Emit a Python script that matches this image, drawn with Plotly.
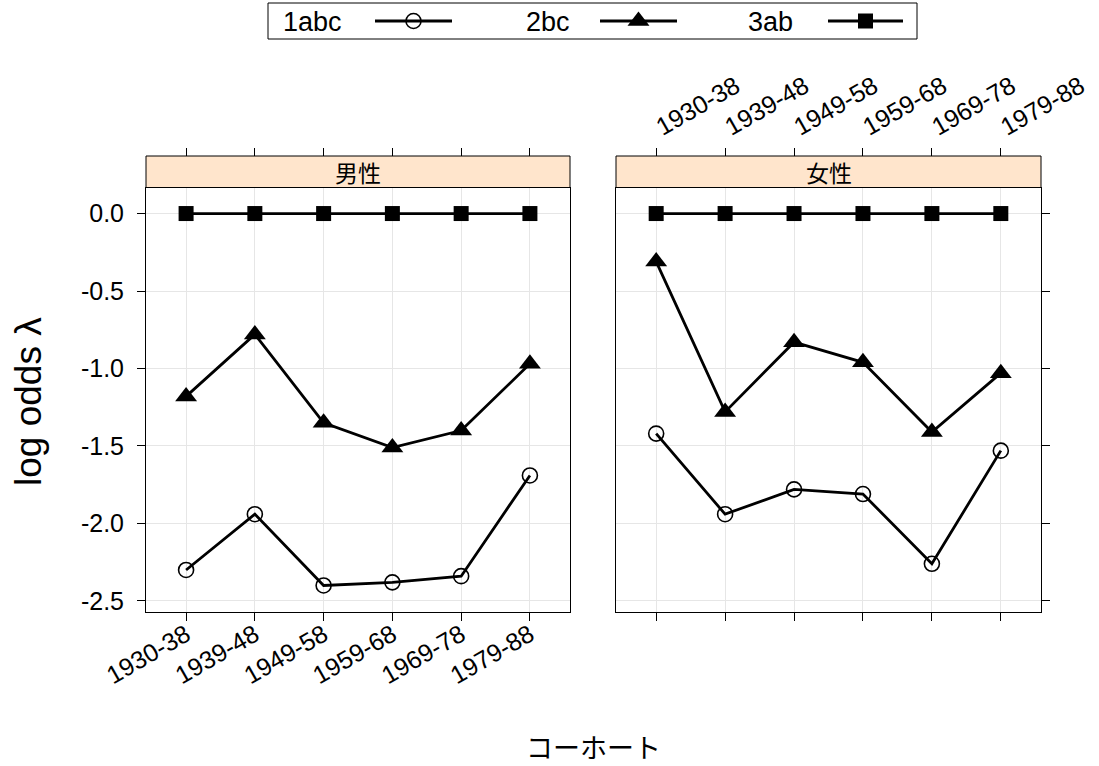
import plotly.graph_objects as go

cohorts = ["1930-38", "1939-48", "1949-58", "1959-68", "1969-78", "1979-88"]
panels = ["男性", "女性"]
series = ["1abc", "2bc", "3ab"]

male_1abc = [-2.30, -1.94, -2.40, -2.38, -2.34, -1.69]
male_2bc = [-1.18, -0.78, -1.35, -1.51, -1.40, -0.97]
male_3ab = [0.0, 0.0, 0.0, 0.0, 0.0, 0.0]
female_1abc = [-1.42, -1.94, -1.78, -1.81, -2.26, -1.53]
female_2bc = [-0.31, -1.28, -0.83, -0.96, -1.41, -1.03]
female_3ab = [0.0, 0.0, 0.0, 0.0, 0.0, 0.0]

yticks = [0.0, -0.5, -1.0, -1.5, -2.0, -2.5]
ytick_text = ["0.0", "-0.5", "-1.0", "-1.5", "-2.0", "-2.5"]

W, H = 1099, 766
def px(x):
    return x / W
def py(y):
    return 1 - y / H

FONT = "Liberation Sans, Arial, Noto Sans CJK JP"
styles = {
    "1abc": dict(symbol="circle-open", size=15, line=dict(width=1.6, color="black")),
    "2bc": dict(symbol="triangle-up", size=19, line=dict(width=0)),
    "3ab": dict(symbol="square", size=15, line=dict(width=0)),
}

xpos = list(range(1, len(cohorts) + 1))
fig = go.Figure()
data = [
    ("x", "y", [male_1abc, male_2bc, male_3ab]),
    ("x2", "y2", [female_1abc, female_2bc, female_3ab]),
]
for xa, ya, vals in data:
    for name, v in zip(series, vals):
        fig.add_trace(go.Scatter(
            x=xpos, y=v, xaxis=xa, yaxis=ya, mode="lines+markers",
            line=dict(color="black", width=2.8),
            marker=dict(color="black", **styles[name]),
            showlegend=False, cliponaxis=False, name=name))

xr = [0.417, 6.583]
yr = [-2.568, 0.168]
ydom = [py(611.5), py(187.5)]
dom1 = [px(146), px(570)]
dom2 = [px(616), px(1041)]
strip_top = 156

tickfont = dict(size=25, family=FONT, color="black")
common_x = dict(range=xr, tickvals=xpos, ticktext=cohorts, ticks="outside",
                ticklen=8, tickwidth=1, tickcolor="black",
                showgrid=True, gridcolor="#e6e6e6", gridwidth=1,
                showline=True, linecolor="black", linewidth=1, mirror=True,
                zeroline=False, tickangle=-30, automargin=False,
                tickfont=tickfont)
common_y = dict(range=yr, tickvals=yticks, ticktext=ytick_text, ticks="outside",
                ticklen=8, tickwidth=1, tickcolor="black",
                showgrid=True, gridcolor="#e6e6e6", gridwidth=1,
                showline=True, linecolor="black", linewidth=1, mirror=True,
                zeroline=False, domain=ydom, automargin=False,
                tickfont=tickfont)

fig.update_layout(
    template="none",
    width=W, height=H, margin=dict(l=0, r=0, t=0, b=0, pad=0, autoexpand=False),
    paper_bgcolor="white", plot_bgcolor="rgba(0,0,0,0)",
    font=dict(family=FONT, color="black"),
    xaxis=dict(domain=dom1, anchor="y", side="bottom", ticklabelstandoff=-10, **common_x),
    xaxis2=dict(domain=dom2, anchor="y2", side="bottom", showticklabels=False, **common_x),
    xaxis3=dict(overlaying="x", anchor="free", position=py(strip_top), side="top",
                range=xr, tickvals=xpos, ticks="outside", ticklen=8, tickcolor="black",
                showticklabels=False, showgrid=False, zeroline=False, showline=False,
                automargin=False),
    xaxis4=dict(overlaying="x2", anchor="free", position=py(strip_top), side="top",
                range=xr, tickvals=xpos, ticktext=cohorts, ticks="outside", ticklen=8,
                tickcolor="black", tickangle=-30, showgrid=False, zeroline=False,
                showline=False, automargin=False, tickfont=tickfont),
    yaxis=dict(anchor="x", side="left", ticklabelstandoff=8, **common_y),
    yaxis2=dict(anchor="x2", side="right", showticklabels=False, **common_y),
    xaxis5=dict(domain=[0, 1], range=[0, W], visible=False, anchor="y5", automargin=False),
    yaxis5=dict(domain=[0, 1], range=[H, 0], visible=False, anchor="x5", automargin=False),
)
fig.add_trace(go.Scatter(x=[None], y=[None], xaxis="x3", yaxis="y", showlegend=False))
fig.add_trace(go.Scatter(x=[None], y=[None], xaxis="x4", yaxis="y2", showlegend=False))

shapes = []
annotations = []
for dom, label in zip([dom1, dom2], panels):
    shapes.append(dict(type="rect", xref="paper", yref="paper",
                       x0=dom[0], x1=dom[1], y0=py(187.5), y1=py(strip_top),
                       fillcolor="#ffe5cc", line=dict(color="black", width=1)))
    annotations.append(dict(xref="paper", yref="paper", x=(dom[0] + dom[1]) / 2,
                            y=(py(187.5) + py(strip_top)) / 2, text=label, showarrow=False,
                            font=dict(size=23, family="Noto Sans CJK JP", color="black"),
                            xanchor="center", yanchor="middle"))

annotations.append(dict(xref="paper", yref="paper", x=px(593), y=py(746), text="コーホート",
                        showarrow=False, font=dict(size=27, family="Noto Sans CJK JP", color="black"),
                        xanchor="center", yanchor="middle"))
annotations.append(dict(xref="paper", yref="paper", x=px(29), y=py(402),
                        text="log odds λ", textangle=-90, showarrow=False,
                        font=dict(size=37, family=FONT, color="black"),
                        xanchor="center", yanchor="middle"))

shapes.append(dict(type="rect", xref="paper", yref="paper", x0=px(268), x1=px(917),
                   y0=py(39), y1=py(3), line=dict(color="black", width=1),
                   fillcolor="rgba(0,0,0,0)"))
leg_text_x = [281, 524, 746]
leg_line = [(375, 452), (600, 677), (828, 903)]
leg_y = 21
for name, tx, (l0, l1) in zip(series, leg_text_x, leg_line):
    annotations.append(dict(xref="paper", yref="paper", x=px(tx), y=py(leg_y + 1), text=name,
                            showarrow=False, xanchor="left", yanchor="middle",
                            font=dict(size=27, family=FONT, color="black")))
    shapes.append(dict(type="line", xref="paper", yref="paper", x0=px(l0), x1=px(l1),
                       y0=py(leg_y), y1=py(leg_y), line=dict(color="black", width=2.8)))
    fig.add_trace(go.Scatter(x=[(l0 + l1) / 2], y=[leg_y], xaxis="x5", yaxis="y5",
                             mode="markers", marker=dict(color="black", **styles[name]),
                             showlegend=False, cliponaxis=False, hoverinfo="skip"))

fig.update_layout(shapes=shapes, annotations=annotations)

fig.write_html("out.html", config={"displayModeBar": False},
               post_script="document.body.style.margin='0px';")
